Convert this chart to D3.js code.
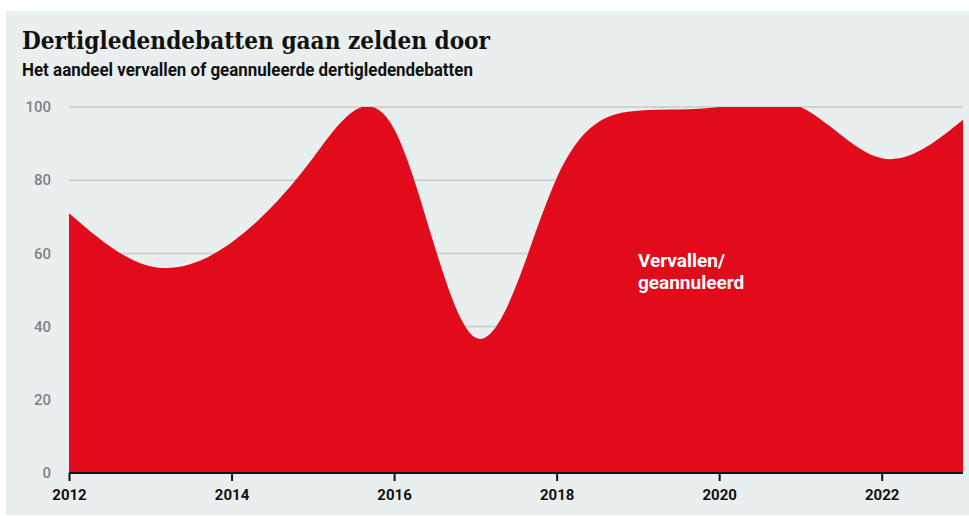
<!DOCTYPE html>
<html>
<head>
<meta charset="utf-8">
<script src="https://cdn.jsdelivr.net/npm/d3@7"></script>
<style>
  body { margin: 0; background: #fff; }
  svg { display: block; }
</style>
</head>
<body>
<svg id="chart"></svg>
<script>
const WIDTH = 969;
const HEIGHT = 516;
const COLOR = {
    panel: '#e9efef',
    area: '#e10b1b',
    grid: '#c6caca',
    yText: '#7f8384',
}

// data
const years = [2012, 2013, 2014, 2015, 2016, 2017, 2018, 2019, 2020, 2021, 2022, 2023];
const share = [71, 56.5, 63, 86, 94, 37, 80.5, 99, 100, 100, 86, 96.5];
const yTicks = [0, 20, 40, 60, 80, 100];
const xTicks = [2012, 2014, 2016, 2018, 2020, 2022];
const areaLabel = ['Vervallen/', 'geannuleerd'];

const margin = { top: 107, right: 6, bottom: 43, left: 69 };

let svg = d3.select('#chart')
    .attr('width', WIDTH)
    .attr('height', HEIGHT)

svg.append('rect')
    .attr('x', 6)
    .attr('y', 11)
    .attr('width', WIDTH - 6)
    .attr('height', HEIGHT - 12)
    .attr('fill', COLOR.panel)

// title + subtitle
svg.append('text')
    .attr('x', 22)
    .attr('y', 49)
    .attr('font-family', '"DejaVu Serif", serif')
    .attr('font-weight', 'bold')
    .attr('font-size', 25)
    .attr('textLength', 468)
    .attr('lengthAdjust', 'spacingAndGlyphs')
    .attr('fill', '#111')
    .text('Dertigledendebatten gaan zelden door')

svg.append('text')
    .attr('x', 22)
    .attr('y', 76)
    .attr('font-family', 'Roboto, sans-serif')
    .attr('font-weight', 'bold')
    .attr('font-size', 17.5)
    .attr('textLength', 451)
    .attr('lengthAdjust', 'spacingAndGlyphs')
    .attr('fill', '#111')
    .text('Het aandeel vervallen of geannuleerde dertigledendebatten')

const x = d3.scaleLinear()
    .domain([2012, 2023])
    .range([margin.left, WIDTH - margin.right])

const y = d3.scaleLinear()
    .domain([0, 100])
    .range([HEIGHT - margin.bottom, margin.top])

const data = years.map((yr, i) => ({ year: yr, value: share[i] }))

// gridlines
svg.append('g')
    .selectAll('line')
    .data(yTicks.filter(t => t > 0))
    .enter().append('line')
    .attr('x1', x(2012))
    .attr('x2', x(2023))
    .attr('y1', d => y(d))
    .attr('y2', d => y(d))
    .attr('stroke', COLOR.grid)
    .attr('stroke-width', 1.5)

// clip so the smoothed curve doesn't go above 100
svg.append('clipPath')
    .attr('id', 'plotclip')
    .append('rect')
    .attr('x', x(2012))
    .attr('y', y(100))
    .attr('width', x(2023) - x(2012))
    .attr('height', y(0) - y(100))

const area = d3.area()
    .x(d => x(d.year))
    .y0(y(0))
    .y1(d => y(d.value))
    .curve(d3.curveNatural)

svg.append('path')
    .datum(data)
    .attr('clip-path', 'url(#plotclip)')
    .attr('d', area)
    .attr('fill', COLOR.area)

// y labels
svg.append('g')
    .selectAll('text')
    .data(yTicks)
    .enter().append('text')
    .attr('x', 51)
    .attr('y', d => y(d))
    .attr('dy', '0.35em')
    .attr('text-anchor', 'end')
    .attr('font-family', 'Roboto, sans-serif')
    .attr('font-weight', 500)
    .attr('font-size', 15)
    .attr('fill', COLOR.yText)
    .text(d => d)

// x axis
const xAxis = d3.axisBottom(x)
    .tickValues(xTicks)
    .tickFormat(d3.format('d'))
    .tickSize(8)
    .tickPadding(8)

const gx = svg.append('g')
    .attr('transform', `translate(0,${y(0)})`)
    .call(xAxis)

gx.select('.domain')
    .attr('d', `M${x(2012)},0H${x(2023)}`)
    .attr('stroke', '#111')
    .attr('stroke-width', 2)
gx.selectAll('.tick line')
    .attr('stroke', '#111')
    .attr('stroke-width', 2)
gx.selectAll('.tick text')
    .attr('font-family', 'Roboto, sans-serif')
    .attr('font-weight', 'bold')
    .attr('font-size', 15)
    .attr('fill', '#111')

// label inside the area
svg.append('text')
    .attr('x', x(2019.0))
    .attr('y', 267)
    .attr('font-family', 'Roboto, sans-serif')
    .attr('font-weight', 'bold')
    .attr('font-size', 19)
    .attr('fill', '#fff')
    .selectAll('tspan')
    .data(areaLabel)
    .enter().append('tspan')
    .attr('x', x(2019.0))
    .attr('dy', (d, i) => i === 0 ? 0 : 22)
    .text(d => d)
</script>
</body>
</html>
